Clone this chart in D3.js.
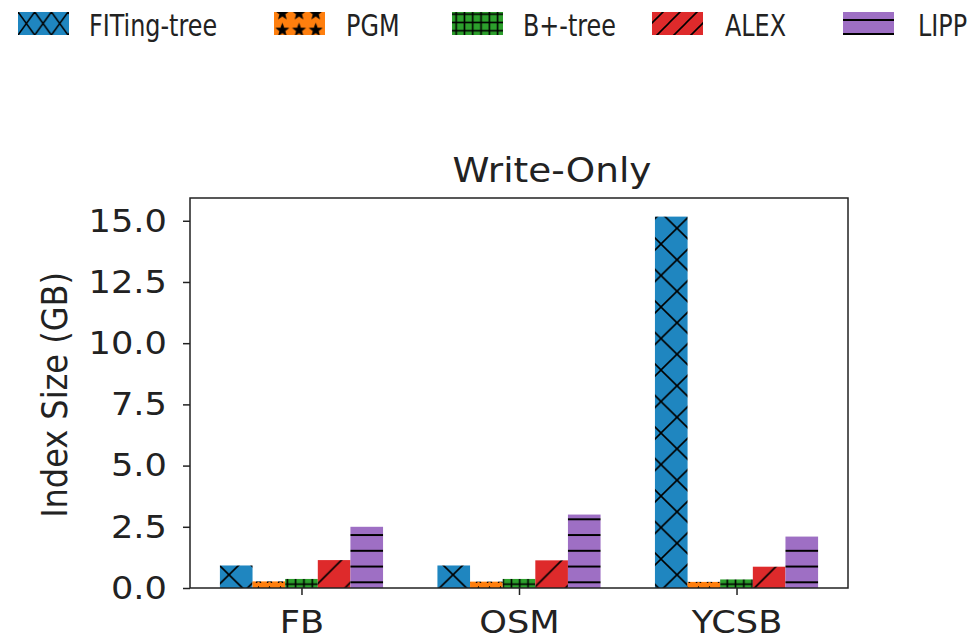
<html>
<head>
  <meta charset="utf-8">
  <title>Write-Only index size</title>
  <script src="https://d3js.org/d3.v7.min.js"></script>
  <style>
    body { margin: 0; background: #fff; }
    svg text { font-family: "DejaVu Sans", sans-serif; fill: #222; }
    .axis path, .axis line { stroke: #222; stroke-width: 1.5px; }
  </style>
</head>
<body>
  <svg id="chart" width="976" height="640"></svg>
  <script>

    // ---- data ----
    const categories = ["FB", "OSM", "YCSB"];
    const seriesNames = ["FITing-tree", "PGM", "B+-tree", "ALEX", "LIPP"];
    const seriesColors = ["#1f86c0", "#ff7f0e", "#2ca02c", "#de2a2b", "#9e6fc4"];
    const fitingValues = [0.92, 0.92, 15.17];
    const pgmValues = [0.27, 0.26, 0.25];
    const btreeValues = [0.37, 0.37, 0.35];
    const alexValues = [1.14, 1.13, 0.87];
    const lippValues = [2.50, 3.00, 2.10];
    const yTicks = [0, 2.5, 5, 7.5, 10, 12.5, 15];

    const seriesValues = [fitingValues, pgmValues, btreeValues, alexValues, lippValues];

    const svg = d3.select("#chart");
    const defs = svg.append("defs");

    // plot box
    const plotL = 190, plotR = 848, plotT = 198, plotB = 588;
    const barW = 0.15;
    const xScale = d3.scaleLinear().domain([-0.5125, 2.5125]).range([plotL, plotR]);
    const yScale = d3.scaleLinear().domain([0, 15.93]).range([plotB, plotT]);

    // ---- hatch patterns (matplotlib style hatches) ----
    const P = 31.5;
    function crossPattern(id, color, w, h, ox, oy) {
      let p = defs.append("pattern").attr("id", id).attr("patternUnits", "userSpaceOnUse")
                  .attr("x", ox).attr("y", oy).attr("width", w).attr("height", h);
      p.append("rect").attr("width", w).attr("height", h).attr("fill", color);
      let g = p.append("g").attr("stroke", "#000").attr("stroke-width", 1.6);
      g.append("line").attr("x1", -1).attr("y1", -h/w).attr("x2", w+1).attr("y2", h + h/w);
      g.append("line").attr("x1", -1).attr("y1", h + h/w).attr("x2", w+1).attr("y2", -h/w);
    }
    function slashPattern(id, color, s, ox, oy) {
      let p = defs.append("pattern").attr("id", id).attr("patternUnits", "userSpaceOnUse")
                  .attr("x", ox).attr("y", oy).attr("width", s).attr("height", s);
      p.append("rect").attr("width", s).attr("height", s).attr("fill", color);
      let g = p.append("g").attr("stroke", "#000").attr("stroke-width", 1.6);
      g.append("line").attr("x1", -1).attr("y1", s+1).attr("x2", s+1).attr("y2", -1);
      g.append("line").attr("x1", -1).attr("y1", 1).attr("x2", 1).attr("y2", -1);
      g.append("line").attr("x1", s-1).attr("y1", s+1).attr("x2", s+1).attr("y2", s-1);
    }
    function plusPattern(id, color, s, ox, oy) {
      let p = defs.append("pattern").attr("id", id).attr("patternUnits", "userSpaceOnUse")
                  .attr("x", ox).attr("y", oy).attr("width", s).attr("height", s);
      p.append("rect").attr("width", s).attr("height", s).attr("fill", color);
      let g = p.append("g").attr("stroke", "#000").attr("stroke-width", 1.6);
      g.append("line").attr("x1", s/2).attr("y1", 0).attr("x2", s/2).attr("y2", s);
      g.append("line").attr("x1", 0).attr("y1", s/2).attr("x2", s).attr("y2", s/2);
    }
    function dashPattern(id, color, s, ox, oy) {
      let p = defs.append("pattern").attr("id", id).attr("patternUnits", "userSpaceOnUse")
                  .attr("x", ox).attr("y", oy).attr("width", 20).attr("height", s);
      p.append("rect").attr("width", 20).attr("height", s).attr("fill", color);
      p.append("line").attr("x1", 0).attr("y1", s/2).attr("x2", 20).attr("y2", s/2)
       .attr("stroke", "#000").attr("stroke-width", 2);
    }
    function starPattern(id, color, s, ox, oy) {
      let p = defs.append("pattern").attr("id", id).attr("patternUnits", "userSpaceOnUse")
                  .attr("x", ox).attr("y", oy).attr("width", s).attr("height", s);
      p.append("rect").attr("width", s).attr("height", s).attr("fill", color);
      let r1 = s * 0.36, r2 = s * 0.15, pts = [];
      for (let k = 0; k < 10; k++) {
        let a = -Math.PI/2 + k * Math.PI/5, r = k % 2 ? r2 : r1;
        pts.push([s/2 + r*Math.cos(a), s/2 + r*Math.sin(a)]);
      }
      p.append("polygon").attr("points", pts.map(d => d.join(",")).join(" "))
       .attr("fill", "#000").attr("stroke", "#000").attr("stroke-width", 1);
    }

    // bar patterns
    crossPattern("h0", seriesColors[0], 32, P, 437, 559);
    starPattern("h1", seriesColors[1], 11, 0, 585);
    plusPattern("h2", seriesColors[2], 8.3, 1, 580);
    slashPattern("h3", seriesColors[3], P, 0, 1122 % P);
    dashPattern("h4", seriesColors[4], P/2, 0, 582.3 - P/4);
    // legend patterns (finer)
    crossPattern("l0", seriesColors[0], 16.7, 23, 18, 12);
    starPattern("l1", seriesColors[1], 16.7, 274, 5);
    plusPattern("l2", seriesColors[2], 8.3, 452, 10);
    slashPattern("l3", seriesColors[3], 17, 652, 6);
    dashPattern("l4", seriesColors[4], 14, 843, 13);

    // ---- bars ----
    const bars = [];
    seriesValues.forEach((vals, si) => {
      vals.forEach((v, ci) => bars.push({ s: si, c: ci, v: v }));
    });

    svg.append("g").selectAll("rect.bar").data(bars).join("rect")
       .attr("class", "bar")
       .attr("x", d => xScale(d.c + (d.s - 2.5) * barW))
       .attr("width", d => xScale(barW) - xScale(0))
       .attr("y", d => yScale(d.v))
       .attr("height", d => yScale(0) - yScale(d.v))
       .attr("fill", d => "url(#h" + d.s + ")");

    // ---- axes ----
    const yAxis = svg.append("g").attr("class", "axis").attr("transform", `translate(${plotL},0)`)
      .call(d3.axisLeft(yScale).tickValues(yTicks).tickFormat(d3.format(".1f")).tickSize(7).tickPadding(14));
    yAxis.select(".domain").remove();
    yAxis.selectAll("text").attr("font-size", 32).attr("fill", "#222")
         .attr("font-family", "DejaVu Sans").attr("transform", "scale(1.1,1)");

    const xAxis = svg.append("g").attr("class", "axis").attr("transform", `translate(0,${plotB})`)
      .call(d3.axisBottom(xScale).tickValues([0, 1, 2]).tickFormat(i => categories[i]).tickSize(7));
    xAxis.select(".domain").remove();
    xAxis.selectAll("text").attr("font-size", 32).attr("fill", "#222").attr("font-family", "DejaVu Sans")
         .attr("y", 45).attr("dy", 0).attr("transform", "scale(1.1,1)");

    // frame
    svg.append("rect").attr("x", plotL).attr("y", plotT).attr("width", plotR - plotL).attr("height", plotB - plotT)
       .attr("fill", "none").attr("stroke", "#222").attr("stroke-width", 1.5);

    // title and y label
    svg.append("text").attr("text-anchor", "middle").attr("font-size", 34)
       .attr("transform", "translate(552,182) scale(1.1,1)").text("Write-Only");
    svg.append("text").attr("text-anchor", "middle").attr("font-size", 32)
       .attr("transform", "translate(67,395) scale(1.1,1) rotate(-90)").text("Index Size (GB)");

    // ---- legend ----
    const legendPatchX = [18, 274, 452, 652, 843];
    const legendTextX = [89, 346, 523, 725, 918];
    const leg = svg.append("g").selectAll("g").data(seriesNames).join("g");
    leg.append("rect").attr("x", (d, i) => legendPatchX[i]).attr("y", 12).attr("width", 51).attr("height", 23)
       .attr("fill", (d, i) => "url(#l" + i + ")");
    leg.append("text").attr("font-size", 31)
       .attr("transform", (d, i) => `translate(${legendTextX[i]},36) scale(0.77,1)`)
       .text(d => d);

  </script>
</body>
</html>
